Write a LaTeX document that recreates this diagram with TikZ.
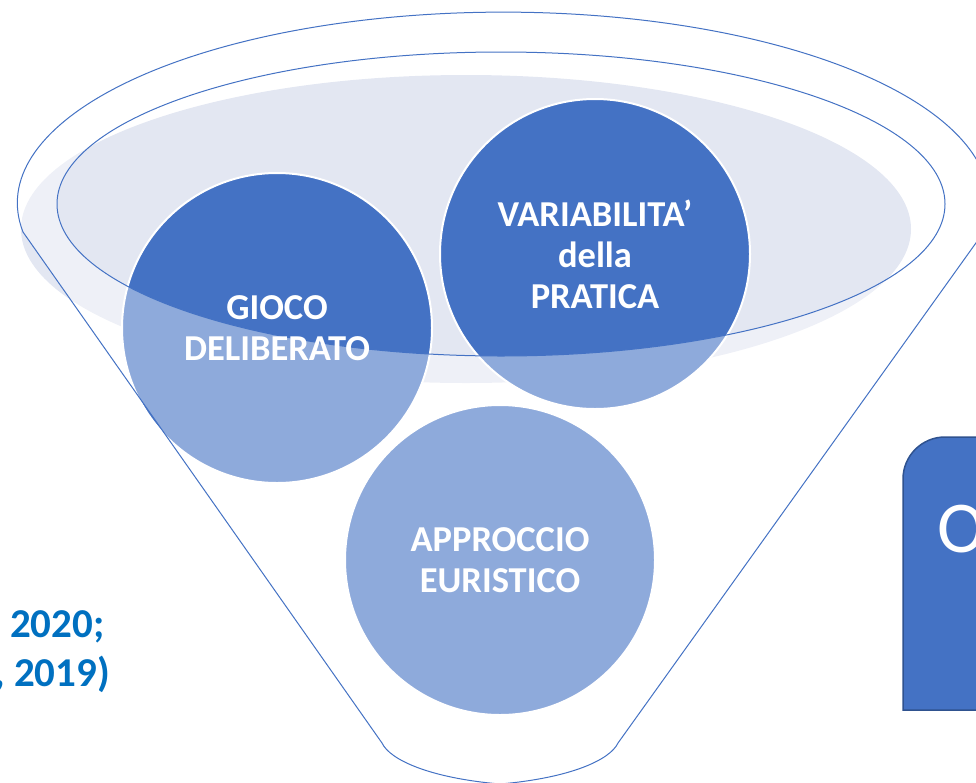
\documentclass[tikz,border=0pt]{standalone}
\usepackage{fontspec}
\setmainfont{Carlito}
\definecolor{acc}{HTML}{4472C4}
\definecolor{accdark}{HTML}{2F528F}
\definecolor{lite}{RGB}{227,231,242}
\definecolor{cite}{HTML}{0070C0}
\tikzset{
  bubble/.style={circle, minimum size=310pt, inner sep=0pt, fill=acc, draw=white, line width=2pt},
  lbl/.style={text=white, align=center, inner sep=0pt, font=\fontsize{36.5}{41}\selectfont\bfseries},
  rim/.style={draw=acc, line width=1pt},
  citetext/.style={text=cite, inner sep=0pt, font=\fontsize{41}{48}\selectfont\bfseries}
}
\begin{document}
\begin{tikzpicture}[x=1pt,y=-1pt]
\useasboundingbox (0,0) rectangle (976,782);
\clip (0,0) rectangle (976,782);
% light ellipse
\fill[lite] (466,229) ellipse [x radius=445pt, y radius=154pt];
% circles
\node[bubble] (gioco) at (277,328) {};
\node[bubble] (varia) at (595,254) {};
\node[bubble] (appr) at (500,560) {};
% translucent funnel body
\fill[white, fill opacity=0.4, even odd rule]
  (23,232) arc [start angle=188.7, end angle=-8.7, x radius=486pt, y radius=191pt]
  -- (618,743) .. controls (610,760) and (570,778) .. (500,784)
  .. controls (430,778) and (390,760) .. (382,743) -- cycle
  (501,204) ellipse [x radius=444pt, y radius=152pt];
% outlines
\draw[rim]
  (23,232) arc [start angle=188.7, end angle=-8.7, x radius=486pt, y radius=191pt]
  -- (618,743) .. controls (610,760) and (570,778) .. (500,784)
  .. controls (430,778) and (390,760) .. (382,743) -- cycle;
\draw[rim] (501,204) ellipse [x radius=444pt, y radius=152pt];
% labels
\node[lbl] (giocoT) at (gioco.center) {GIOCO\\DELIBERATO};
\node[lbl] (variaT) at (varia.center) {VARIABILITA’\\della\\PRATICA};
\node[lbl] (apprT) at (appr.center) {APPROCCIO\\EURISTICO};
% right box
\filldraw[fill=acc, draw=accdark, line width=1.5pt]
  (903,710) -- (903,479) arc [start angle=180, end angle=90, radius=42pt]
  -- (990,437) -- (990,710) -- cycle;
\node[anchor=base west, inner sep=0pt, text=white, font=\fontsize{73}{80}\selectfont] (obj) at (937,552) {O};
% citation text
\node[citetext, anchor=base west] (cite1) at (10,637) {2020;};
\node[citetext, anchor=base west] (cite2) at (-6,686) {, 2019)};
\end{tikzpicture}
\end{document}
